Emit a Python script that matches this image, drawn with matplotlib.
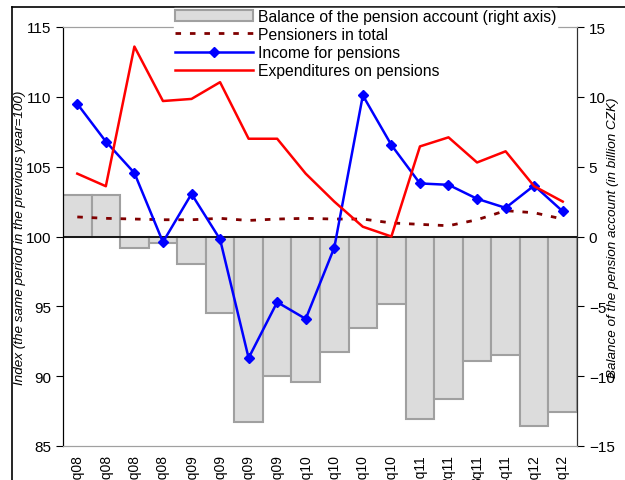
import matplotlib
matplotlib.use("Agg")
import matplotlib.pyplot as plt
from matplotlib.lines import Line2D
import numpy as np

plt.rcParams['font.family'] = ['Liberation Sans', 'DejaVu Sans']

quarters = ["1q08", "2q08", "3q08", "4q08", "1q09", "2q09", "3q09", "4q09",
            "1q10", "2q10", "3q10", "4q10", "1q11", "2q11", "3q11", "4q11",
            "1q12", "2q12"]
balance = [3.0, 3.0, -0.8, -0.5, -2.0, -5.5, -13.25, -10.0,
           -10.4, -8.3, -6.55, -4.8, -13.1, -11.65, -8.9, -8.5,
           -13.55, -12.55]
pensioners = [101.4, 101.3, 101.25, 101.2, 101.2, 101.3, 101.15, 101.25,
              101.3, 101.25, 101.25, 100.97, 100.87, 100.77, 101.2, 101.85,
              101.7, 101.25]
income = [109.5, 106.8, 104.55, 99.6, 103.05, 99.8, 91.3, 95.3,
          94.1, 99.2, 110.1, 106.55, 103.8, 103.7, 102.7, 102.05,
          103.65, 101.8]
expenditures = [104.5, 103.6, 113.6, 109.7, 109.85, 111.05, 107.0, 107.0,
                104.5, 102.5, 100.7, 100.0, 106.45, 107.1, 105.3, 106.1,
                103.6, 102.5]

fig = plt.figure(figsize=(6.25, 4.81), dpi=100)
ax = fig.add_axes([63/625, 1-447/481, (577-63)/625, (447-28)/481])
ax2 = ax.twinx()

x = np.arange(len(quarters))
bars = ax2.bar(x, balance, width=1.0, color="#dcdcdc", edgecolor="#a0a0a0",
               linewidth=1.5, label="Balance of the pension account (right axis)")
ax2.set_ylim(-15, 15)
ax2.set_yticks([-15, -10, -5, 0, 5, 10, 15])
ax2.axhline(0, color="black", lw=1.2, zorder=3)

ax.set_zorder(ax2.get_zorder() + 1)
ax.patch.set_visible(False)

l1, = ax.plot(x, pensioners, color="#800000", lw=2, linestyle=(0, (2, 3.2)),
              label="Pensioners in total")
l2, = ax.plot(x, income, color="#0000ff", lw=1.8, marker="D", markersize=5.5,
              label="Income for pensions")
l3, = ax.plot(x, expenditures, color="#ff0000", lw=1.8,
              label="Expenditures on pensions")

ax.set_ylim(85, 115)
ax.set_yticks([85, 90, 95, 100, 105, 110, 115])
ax.set_xlim(-0.5, len(quarters) - 0.5)
ax.set_xticks(x)
ax.set_xticklabels(quarters, rotation=90, fontsize=10)
ax.tick_params(axis="x", length=0, pad=6)
ax.tick_params(axis="y", direction="out", length=5, labelsize=11)
ax2.tick_params(axis="y", direction="out", length=5, labelsize=11)

ax.set_ylabel("Index (the same period in the previous year=100)",
              fontstyle="italic", fontsize=9.7)
ax2.set_ylabel("Balance of the pension account (in billion CZK)",
               fontstyle="italic", fontsize=9.7)
ax.yaxis.set_label_coords((26 - 63) / 514, 0.5)
ax2.yaxis.set_label_coords((607 - 63) / 514, 0.5)

for a in (ax, ax2):
    a.spines["top"].set_color("#a0a0a0")
    a.spines["bottom"].set_color("#a0a0a0")
    a.spines["left"].set_color("black")
    a.spines["right"].set_color("#303030")

leg = fig.legend(handles=[bars, l1, l2, l3],
                 labels=["Balance of the pension account (right axis)",
                         "Pensioners in total", "Income for pensions",
                         "Expenditures on pensions"],
                 loc="upper left", bbox_to_anchor=(174/625, 1-9/481),
                 frameon=True, fontsize=11.3, handlelength=5.0, handletextpad=0.3,
                 labelspacing=0.2, borderpad=0.05, borderaxespad=0)
leg.get_frame().set_edgecolor("white")
leg.get_frame().set_facecolor("white")
leg.get_frame().set_alpha(1)
leg.get_frame().set_boxstyle("square", pad=0)

fig.add_artist(Line2D([11.5/625, 1], [1-7.5/481, 1-7.5/481], color="black", lw=1.2,
                      transform=fig.transFigure))
fig.add_artist(Line2D([11.5/625, 11.5/625], [0, 1-7.5/481], color="black", lw=1.2,
                      transform=fig.transFigure))

fig.savefig("out.png", dpi=100)
